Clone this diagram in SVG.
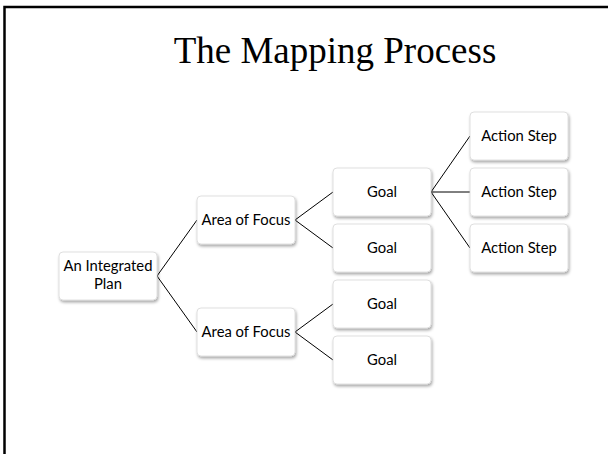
<svg xmlns="http://www.w3.org/2000/svg" width="608" height="454" viewBox="0 0 608 454">
  <style>
    .box { fill: #ffffff; stroke: #d6d6d6; stroke-width: 0.75; filter: url(#shadow); }
    .lbl { font-family: Lato, "Open Sans", "Liberation Sans", sans-serif; font-size: 14.8px; fill: #000; text-anchor: middle; }
    .title { font-family: "Liberation Serif", "Times New Roman", serif; font-size: 37px; fill: #000; text-anchor: middle; }
    .link { stroke: #000; stroke-width: 1; fill: none; }
  </style>
  <defs>
    <filter id="shadow" x="-20%" y="-20%" width="140%" height="150%">
      <feDropShadow dx="1" dy="2" stdDeviation="1.5" flood-color="#000" flood-opacity="0.35"/>
    </filter>
  </defs>

  <rect width="608" height="454" fill="#ffffff"/>
  <!-- slide frame -->
  <path d="M4.5 454 V7 H608" fill="none" stroke="#000" stroke-width="2.5"/>

  <text class="title" x="335" y="63">The Mapping Process</text>

  <g id="connectors">
    <path class="link" d="M157 276 L197 220 M157 276 L197 332"/>
    <path class="link" d="M295 220 L333 192 M295 220 L333 248"/>
    <path class="link" d="M295 332 L333 304 M295 332 L333 360"/>
    <path class="link" d="M431 192 L470 136 M431 192 L470 192 M431 192 L470 248"/>
  </g>

  <g id="plan">
    <rect class="box" x="59" y="252" width="98" height="48" rx="4"/>
    <text class="lbl" x="108" y="271">An Integrated</text>
    <text class="lbl" x="108" y="289">Plan</text>
  </g>

  <g id="focus-1">
    <rect class="box" x="197" y="196" width="98" height="48" rx="4"/>
    <text class="lbl" x="246" y="225">Area of Focus</text>
  </g>
  <g id="focus-2">
    <rect class="box" x="197" y="308" width="98" height="48" rx="4"/>
    <text class="lbl" x="246" y="337">Area of Focus</text>
  </g>

  <g id="goal-1">
    <rect class="box" x="333" y="168" width="98" height="48" rx="4"/>
    <text class="lbl" x="382" y="197">Goal</text>
  </g>
  <g id="goal-2">
    <rect class="box" x="333" y="224" width="98" height="48" rx="4"/>
    <text class="lbl" x="382" y="253">Goal</text>
  </g>
  <g id="goal-3">
    <rect class="box" x="333" y="280" width="98" height="48" rx="4"/>
    <text class="lbl" x="382" y="309">Goal</text>
  </g>
  <g id="goal-4">
    <rect class="box" x="333" y="336" width="98" height="48" rx="4"/>
    <text class="lbl" x="382" y="365">Goal</text>
  </g>

  <g id="step-1">
    <rect class="box" x="470" y="112" width="98" height="48" rx="4"/>
    <text class="lbl" x="519" y="141">Action Step</text>
  </g>
  <g id="step-2">
    <rect class="box" x="470" y="168" width="98" height="48" rx="4"/>
    <text class="lbl" x="519" y="197">Action Step</text>
  </g>
  <g id="step-3">
    <rect class="box" x="470" y="224" width="98" height="48" rx="4"/>
    <text class="lbl" x="519" y="253">Action Step</text>
  </g>
</svg>
